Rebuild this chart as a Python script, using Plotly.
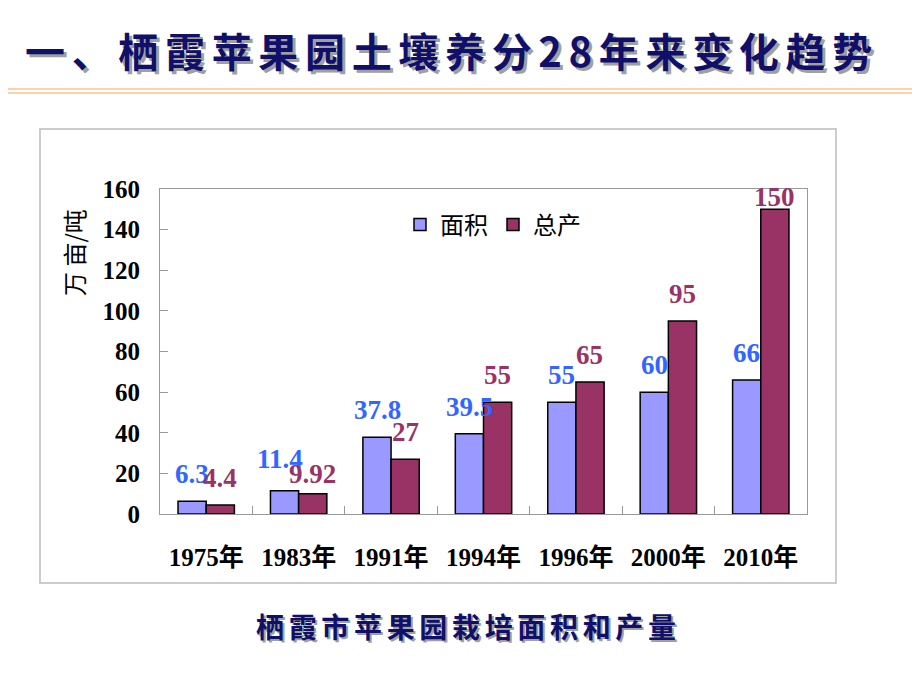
import plotly.graph_objects as go

years = ["1975年", "1983年", "1991年", "1994年", "1996年", "2000年", "2010年"]
area = [6.3, 11.4, 37.8, 39.5, 55, 60, 66]
output = [4.4, 9.92, 27, 55, 65, 95, 150]
area_labels = ["6.3", "11.4", "37.8", "39.5", "55", "60", "66"]
output_labels = ["4.4", "9.92", "27", "55", "65", "95", "150"]
y_ticks = [0, 20, 40, 60, 80, 100, 120, 140, 160]

title_text = "一、栖霞苹果园土壤养分28年来变化趋势"
caption_text = "栖霞市苹果园栽培面积和产量"

serif = "Liberation Serif, Times New Roman, Noto Sans CJK SC, serif"
cjk = "Noto Sans CJK SC, sans-serif"
navy = "#10106a"

# page puts the figure 8px in from the window corner
OFF = 8
L, T, PW, PH = 152, 181, 647, 325


def px(x):
    return (x - OFF - L) / PW


def py(y):
    return (T + PH - (y - OFF)) / PH


fig = go.Figure()
fig.add_trace(go.Bar(x=years, y=area, name="面积",
                     marker=dict(color="#9999FF", line=dict(color="black", width=1.5))))
fig.add_trace(go.Bar(x=years, y=output, name="总产",
                     marker=dict(color="#993366", line=dict(color="black", width=1.5))))

annotations = []
# value labels above each bar (a couple nudged like the original)
nudge = {(0, 1): (-19, 32), (1, 1): (14, 20)}
for i, yr in enumerate(years):
    dx, dy = nudge.get((0, i), (-14, 27))
    annotations.append(dict(x=yr, y=area[i], xref="x", yref="y", text=area_labels[i],
                            showarrow=False, xshift=dx, yshift=dy,
                            font=dict(family=serif, size=27, color="#3366FF", weight="bold")))
    dx, dy = nudge.get((1, i), (14, 12 if output[i] >= 140 else 27))
    annotations.append(dict(x=yr, y=output[i], xref="x", yref="y", text=output_labels[i],
                            showarrow=False, xshift=dx, yshift=dy,
                            font=dict(family=serif, size=27, color="#993366", weight="bold")))

# y axis title
annotations.append(dict(x=px(73), y=py(253), xref="paper", yref="paper", text="万 亩/吨", textangle=-90,
                        xanchor="center", yanchor="middle",
                        showarrow=False, font=dict(family=cjk, size=24, color="black")))

# title and caption with a soft shadow
title_s = "\u2006".join(title_text)
caption_s = "\u2006".join(caption_text)
for d, col in [(3, "#a0a0a0"), (0, navy)]:
    annotations.append(dict(x=px(448), y=py(50), xref="paper", yref="paper", text=title_s,
                            xanchor="center", yanchor="middle",
                            showarrow=False, xshift=d, yshift=-d,
                            font=dict(family=cjk, size=40, color=col, weight="bold")))
    annotations.append(dict(x=px(466), y=py(626), xref="paper", yref="paper", text=caption_s,
                            xanchor="center", yanchor="middle",
                            showarrow=False, xshift=d * 0.7, yshift=-d * 0.7,
                            font=dict(family=cjk, size=28, color=col, weight="bold")))

fig.update_layout(
    width=920 - OFF, height=690 - OFF,
    margin=dict(l=L, r=920 - OFF - L - PW, t=T, b=690 - OFF - T - PH),
    paper_bgcolor="white", plot_bgcolor="white",
    barmode="group", bargap=0.39, bargroupgap=0,
    showlegend=True,
    legend=dict(orientation="h", x=px(400), y=py(225), xanchor="left", yanchor="middle",
                font=dict(family=cjk, size=24, color="black"), bgcolor="rgba(0,0,0,0)"),
    xaxis=dict(showline=True, linecolor="#999999", linewidth=1, mirror=True,
               ticks="inside", tickson="boundaries", ticklen=8, tickcolor="#999999",
               tickfont=dict(family=serif, size=25, color="black", weight="bold"),
               ticklabelstandoff=21, showgrid=False),
    yaxis=dict(range=[0, 160], tickvals=y_ticks, showline=True, linecolor="#999999", linewidth=1,
               mirror=True, ticks="inside", ticklen=8, tickcolor="#999999", showgrid=False,
               zeroline=False, ticklabelstandoff=14,
               tickfont=dict(family=serif, size=25, color="black", weight="bold")),
    annotations=annotations,
    shapes=[
        dict(type="rect", xref="paper", yref="paper", x0=px(40), x1=px(836), y0=py(583), y1=py(129),
             line=dict(color="#cccccc", width=2), layer="below"),
        dict(type="line", xref="paper", yref="paper", x0=px(0), x1=px(920), y0=py(89), y1=py(89),
             line=dict(color="#fcd3a8", width=2)),
        dict(type="line", xref="paper", yref="paper", x0=px(0), x1=px(920), y0=py(93), y1=py(93),
             line=dict(color="#fcd3a8", width=2)),
    ],
)

fig.write_html("out.html")
